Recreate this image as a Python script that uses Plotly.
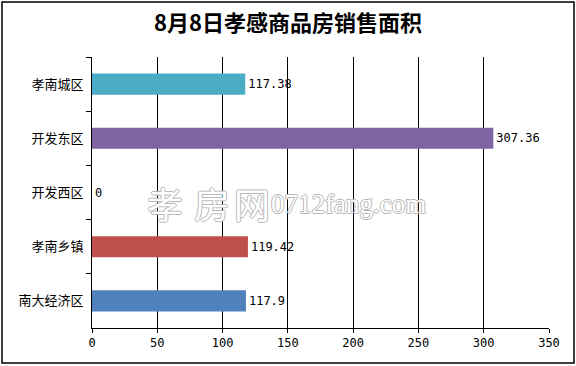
import plotly.graph_objects as go

categories = ["孝南城区", "开发东区", "开发西区", "孝南乡镇", "南大经济区"]
values = [117.38, 307.36, 0, 119.42, 117.9]
labels = ["117.38", "307.36", "0", "119.42", "117.9"]
colors = ["#4BACC6", "#8064A2", "#9BBB59", "#C0504D", "#4F81BD"]
x_ticks = [0, 50, 100, 150, 200, 250, 300, 350]
watermark_chars = ["孝", "房", "网"]
watermark_site = "0712fang.com"

W, H = 576, 366
L, R, T, B = 92, 27, 57, 38

fig = go.Figure()
fig.add_trace(go.Bar(
    y=categories, x=values, orientation="h",
    marker=dict(color=colors, line=dict(width=0)),
    width=0.39,
    text=labels, textposition="outside", cliponaxis=False,
    textfont=dict(family="DejaVu Sans Mono, monospace", size=12, color="#000"),
))

pw = W - L - R
ph = H - T - B
fig.add_shape(type="rect", xref="paper", yref="paper",
              x0=(2 - L) / pw, x1=(574 - L) / pw,
              y0=(H - B - 363) / ph, y1=(H - B - 2) / ph,
              line=dict(color="#000", width=1.5), layer="above")

outline = ("1px 0 0 #b8b8b8, -1px 0 0 #b8b8b8, 0 1px 0 #b8b8b8, 0 -1px 0 #b8b8b8")
for ch, px in zip(watermark_chars, [145, 192, 232]):
    fig.add_annotation(
        text=ch, xref="paper", yref="paper", xanchor="left",
        x=(px - L) / pw, y=(H - B - 203) / ph, showarrow=False,
        font=dict(family="Noto Sans CJK SC", size=36, color="#fff", shadow=outline))
fig.add_annotation(
    text=watermark_site, xref="paper", yref="paper", xanchor="left",
    x=(269 - L) / pw, y=(H - B - 204) / ph, showarrow=False,
    font=dict(family="Liberation Serif", size=27, color="#fff", shadow=outline))

fig.update_layout(
    width=W, height=H,
    margin=dict(l=L, r=R, t=T, b=B, autoexpand=False),
    paper_bgcolor="#fff", plot_bgcolor="#fff",
    showlegend=False,
    title=dict(text="<b>8月8日孝感商品房销售面积</b>", x=0.5, xref="container", xanchor="center",
               y=1 - 23 / H, yanchor="middle",
               font=dict(family="Noto Sans CJK SC", size=22, color="#000")),
    xaxis=dict(range=[0, 350], tickvals=x_ticks, showgrid=True, gridcolor="#000", gridwidth=1,
               showline=True, linecolor="#000", linewidth=1, ticks="outside", ticklen=4,
               tickcolor="#000", zeroline=False, automargin=False,
               tickfont=dict(family="DejaVu Sans Mono, monospace", size=12, color="#000")),
    yaxis=dict(categoryorder="array", categoryarray=categories, autorange="reversed",
               showline=True, linecolor="#000", linewidth=1, ticks="outside", ticklen=5,
               tickson="boundaries", tickcolor="#000", showgrid=False, automargin=False,
               ticklabelstandoff=5,
               tickfont=dict(family="Noto Sans CJK SC", size=13, color="#000")),
    bargap=0.61,
)

fig.write_html("out.html", config={"displayModeBar": False},
               post_script="document.body.style.margin='0';document.body.style.padding='0';")
